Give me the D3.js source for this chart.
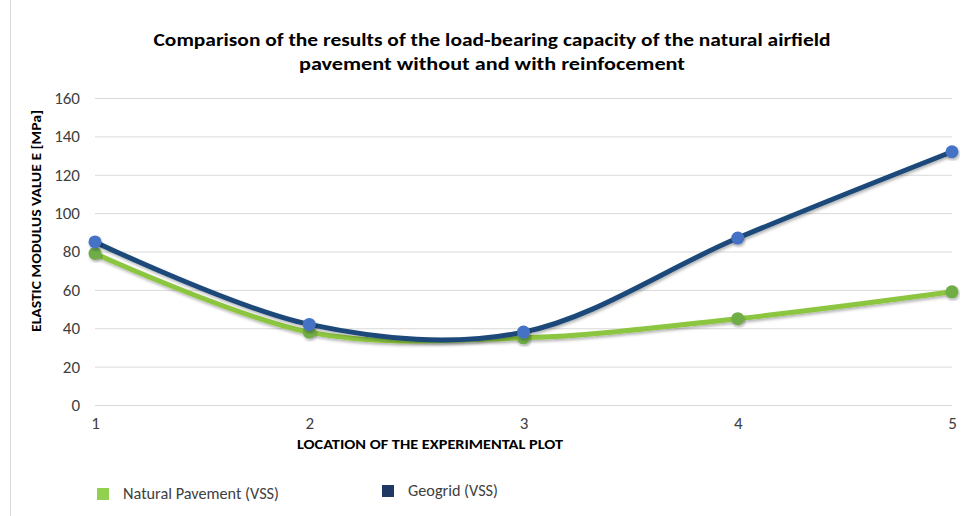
<!DOCTYPE html>
<html><head><meta charset="utf-8">
<script src="https://cdn.jsdelivr.net/npm/d3@7"></script>
<style>body{margin:0;background:#fff}svg{display:block}</style>
</head><body>
<svg id="c" width="968" height="516"></svg>
<script>
const locations = [1, 2, 3, 4, 5];
const naturalPavement = [79, 38, 35, 45, 59];
const geogrid = [85, 42, 38, 87, 132];
const yTicks = [0, 20, 40, 60, 80, 100, 120, 140, 160];
const seriesNames = ["Natural Pavement (VSS)", "Geogrid (VSS)"];
const titleLines = ["Comparison of the results of the load-bearing capacity of the natural airfield", "pavement without and with reinfocement"];

const svg = d3.select("#c");
const font = "Calibri, Carlito, 'Open Sans', 'Liberation Sans', sans-serif";
svg.append("rect").attr("x", 10.5).attr("y", -5).attr("width", 970).attr("height", 530)
  .attr("fill", "#fff").attr("stroke", "#d9d9d9");

const x = d3.scaleLinear().domain([1, 5]).range([95, 952]);
const y = d3.scaleLinear().domain([0, 160]).range([405, 98]);

const defs = svg.append("defs");
const f = defs.append("filter").attr("id", "sh").attr("x", "-10%").attr("y", "-10%").attr("width", "120%").attr("height", "130%");
f.append("feDropShadow").attr("dx", 1).attr("dy", 2).attr("stdDeviation", 1.5).attr("flood-color", "#000").attr("flood-opacity", 0.3);

function fit(sel, w) { const n = sel.node(); const l = n.getComputedTextLength(); if (l > 0) sel.attr("textLength", w).attr("lengthAdjust", "spacingAndGlyphs"); }

// grid
const yAxis = d3.axisLeft(y).tickValues(yTicks).tickSize(-(952 - 95)).tickPadding(15);
const gy = svg.append("g").attr("transform", "translate(95,0)").call(yAxis);
gy.select(".domain").remove();
gy.selectAll(".tick line").attr("stroke", "#d9d9d9").attr("stroke-width", 1);
gy.selectAll(".tick text").attr("fill", "#404040").style("font-family", font).style("font-size", "17px");

const xAxis = d3.axisBottom(x).tickValues(locations).tickFormat(d3.format("d")).tickSize(0).tickPadding(12);
const gx = svg.append("g").attr("transform", "translate(0,405)").call(xAxis);
gx.select(".domain").remove();
gx.selectAll(".tick text").attr("fill", "#404040").style("font-family", font).style("font-size", "17px");

// lines
const line = d3.line().x((d, i) => x(locations[i])).y(d => y(d)).curve(d3.curveCardinal.tension(0));
const series = [
  {vals: naturalPavement, line: "#8CC63F", marker: "#70AD47"},
  {vals: geogrid, line: "#1B4A7A", marker: "#4472C4"}
];
series.forEach(s => {
  svg.append("path").datum(s.vals).attr("d", line).attr("fill", "none")
    .attr("stroke", s.line).attr("stroke-width", 5).attr("stroke-linejoin", "round").attr("filter", "url(#sh)");
});
series.forEach(s => {
  svg.append("g").selectAll("circle").data(s.vals).join("circle")
    .attr("cx", (d, i) => x(locations[i])).attr("cy", d => y(d)).attr("r", 6.5)
    .attr("fill", s.marker).attr("filter", "url(#sh)");
});

// title
const t1 = svg.append("text").attr("x", 492).attr("y", 46).attr("text-anchor", "middle")
  .style("font-family", font).style("font-weight", "bold").style("font-size", "18px").attr("fill", "#000").text(titleLines[0]);
fit(t1, 677);
const t2 = svg.append("text").attr("x", 492).attr("y", 70).attr("text-anchor", "middle")
  .style("font-family", font).style("font-weight", "bold").style("font-size", "18px").attr("fill", "#000").text(titleLines[1]);
fit(t2, 386);

// axis titles
const yt = svg.append("text").attr("transform", "translate(41,221) rotate(-90)").attr("text-anchor", "middle")
  .style("font-family", font).style("font-weight", "bold").style("font-size", "13px").attr("fill", "#000")
  .text("ELASTIC MODULUS VALUE E [MPa]");
fit(yt, 222);
const xt = svg.append("text").attr("x", 430).attr("y", 449).attr("text-anchor", "middle")
  .style("font-family", font).style("font-weight", "bold").style("font-size", "13px").attr("fill", "#000")
  .text("LOCATION OF THE EXPERIMENTAL PLOT");
fit(xt, 266);

// legend
const leg = [{x: 97, y: 488, c: "#92D050", name: seriesNames[0], w: 156}, {x: 382, y: 485, c: "#1F3864", name: seriesNames[1], w: 90}];
leg.forEach(l => {
  svg.append("rect").attr("x", l.x).attr("y", l.y).attr("width", 12).attr("height", 12).attr("fill", l.c);
  const t = svg.append("text").attr("x", l.x + 26).attr("y", l.y + 11).style("font-family", font).style("font-size", "16px")
    .attr("fill", "#404040").text(l.name);
  fit(t, l.w);
});
</script>
</body></html>
